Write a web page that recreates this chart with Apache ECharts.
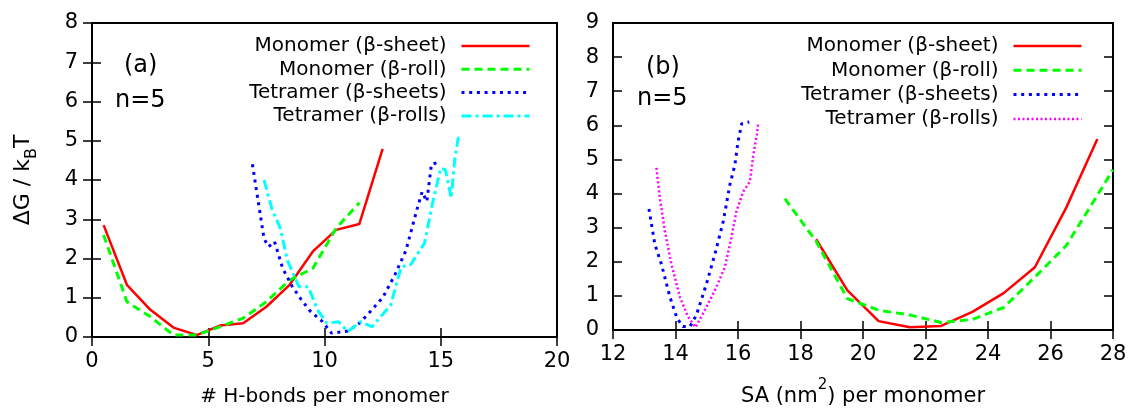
<!DOCTYPE html>
<html>
<head>
<meta charset="utf-8">
<script src="https://cdn.jsdelivr.net/npm/echarts@6/dist/echarts.min.js"></script>
<style>
html, body { margin: 0; padding: 0; background: #fff; }
#chart { width: 1130px; height: 412px; }
</style>
</head>
<body>
<div id="chart"></div>
<script>
// panel (a): # H-bonds per monomer
const hbMonoSheetX = [0.5, 1.5, 2.5, 3.5, 4.5, 5.5, 6.5, 7.5, 8.5, 9.5, 10.5, 11.5, 12.5]
const hbMonoSheetY = [2.85, 1.33, 0.7, 0.24, 0.05, 0.29, 0.35, 0.77, 1.33, 2.18, 2.73, 2.88, 4.79]
const hbMonoRollX = [0.5, 1.5, 2.5, 3.5, 4.5, 5.5, 6.5, 7.5, 8.5, 9.5, 10.5, 11.5]
const hbMonoRollY = [2.6, 0.9, 0.52, 0.05, 0.05, 0.26, 0.48, 0.9, 1.45, 1.75, 2.77, 3.42]
const hbTetSheetX = [6.9, 7.4, 7.6, 7.85, 8.2, 8.6, 9.0, 9.4, 9.9, 10.3, 10.6, 11.0, 11.5, 11.9, 12.5, 13.0, 13.5, 14.0, 14.2, 14.4, 14.6, 14.9]
const hbTetSheetY = [4.4, 2.5, 2.3, 2.43, 1.75, 1.3, 0.95, 0.65, 0.4, 0.1, 0.12, 0.15, 0.35, 0.6, 1.0, 1.55, 2.2, 3.3, 3.7, 3.45, 4.4, 4.45]
const hbTetRollX = [7.4, 7.75, 8.1, 8.4, 8.9, 9.3, 9.7, 10.1, 10.6, 11.0, 11.55, 12.05, 12.85, 13.3, 13.7, 14.3, 14.65, 15.0, 15.2, 15.45, 15.6, 15.75, 15.9]
const hbTetRollY = [4.0, 3.24, 2.77, 1.96, 1.28, 1.28, 0.69, 0.35, 0.39, 0.14, 0.39, 0.26, 0.82, 1.79, 1.84, 2.39, 3.41, 4.3, 4.26, 3.54, 4.52, 5.07, 5.11]

// panel (b): SA (nm^2) per monomer
const saMonoSheetX = [18.5, 19.5, 20.5, 21.5, 22.5, 23.5, 24.5, 25.5, 26.5, 27.5]
const saMonoSheetY = [2.66, 1.16, 0.26, 0.08, 0.12, 0.53, 1.08, 1.84, 3.58, 5.6]
const saMonoRollX = [17.5, 18.5, 19.5, 20.5, 21.5, 22.5, 23.5, 24.5, 25.5, 26.5, 27.5, 28]
const saMonoRollY = [3.85, 2.6, 0.92, 0.58, 0.44, 0.22, 0.31, 0.66, 1.55, 2.47, 3.95, 4.7]
const saTetSheetX = [13.15, 13.34, 13.55, 13.82, 14.05, 14.24, 14.46, 14.67, 14.99, 15.26, 15.53, 15.74, 15.9, 16.0, 16.12, 16.36]
const saTetSheetY = [3.55, 2.51, 1.93, 0.97, 0.34, 0.1, 0.1, 0.44, 1.35, 2.22, 3.19, 4.26, 4.84, 5.52, 6.05, 6.1]
const saTetRollX = [13.39, 13.5, 13.66, 13.87, 14.14, 14.4, 14.64, 14.88, 15.26, 15.58, 15.79, 15.95, 16.17, 16.38, 16.49, 16.6, 16.65]
const saTetRollY = [4.75, 3.87, 2.9, 1.93, 0.97, 0.39, 0.08, 0.48, 1.16, 1.84, 2.71, 3.48, 4.06, 4.35, 5.13, 5.71, 6.08]

const seriesNames = ['Monomer (β-sheet)', 'Monomer (β-roll)', 'Tetramer (β-sheets)', 'Tetramer (β-rolls)']
const hbTicks = { min: 0, max: 20, interval: 5 }
const saTicks = { min: 12, max: 28, interval: 2 }

const FONT = 'DejaVu Sans'

function zip(xs, ys) {
    return xs.map((x, i) => [x, ys[i]])
}

function line(name, xs, ys, axis, color, width, dash) {
    return {
        name: name,
        type: 'line',
        xAxisIndex: axis * 2,
        yAxisIndex: axis * 2,
        data: zip(xs, ys),
        symbol: 'none',
        smooth: false,
        animation: false,
        lineStyle: { color: color, width: width, type: dash || 'solid', cap: 'butt' },
        itemStyle: { color: color }
    }
}

function xAx(grid, range, top, name, nameGap) {
    return {
        type: 'value',
        gridIndex: grid,
        position: top ? 'top' : 'bottom',
        min: range.min,
        max: range.max,
        interval: range.interval,
        name: top ? '' : name,
        nameLocation: 'middle',
        nameGap: nameGap,
        nameMoveOverlap: false,
        nameTextStyle: {
            color: '#000', fontFamily: FONT, fontSize: 20,
            rich: {
                t: { fontFamily: FONT, fontSize: 21, color: '#000', lineHeight: 29, verticalAlign: 'bottom' },
                sup: { fontFamily: FONT, fontSize: 15, color: '#000', lineHeight: 15, verticalAlign: 'top' }
            }
        },
        axisLine: { show: false },
        axisTick: { show: true, inside: true, length: 9, lineStyle: { color: '#000', width: 1.5 } },
        axisLabel: { show: !top, color: '#000', fontFamily: FONT, fontSize: 21, margin: 14, showMinLabel: true, showMaxLabel: true },
        splitLine: { show: false }
    }
}

function yAx(grid, max, right, name) {
    return {
        type: 'value',
        gridIndex: grid,
        position: right ? 'right' : 'left',
        min: 0,
        max: max,
        interval: 1,
        name: name || '',
        nameLocation: 'middle',
        nameGap: 52,
        nameRotate: 90,
        nameMoveOverlap: false,
        nameTextStyle: {
            color: '#000', fontFamily: FONT, fontSize: 22,
            rich: {
                t: { fontFamily: FONT, fontSize: 22, color: '#000', lineHeight: 28, verticalAlign: 'top' },
                sub: { fontFamily: FONT, fontSize: 16, color: '#000', lineHeight: 16, verticalAlign: 'bottom' }
            }
        },
        axisLine: { show: false },
        axisTick: { show: true, inside: true, length: 9, lineStyle: { color: '#000', width: 1.5 } },
        axisLabel: { show: !right, color: '#000', fontFamily: FONT, fontSize: 21, margin: 14, showMinLabel: true, showMaxLabel: true },
        splitLine: { show: false }
    }
}

function legend(names, right, rowH, suffix) {
    return {
        orient: 'vertical',
        align: 'right',
        right: right,
        top: 46 - rowH / 2,
        padding: 0,
        itemGap: 0,
        itemWidth: 68,
        itemHeight: 14,
        selectedMode: false,
        data: names.map(n => n + suffix),
        formatter: n => n.replace(suffix, ''),
        itemStyle: { opacity: 0, color: 'transparent', borderWidth: 0 },
        lineStyle: { width: 'inherit', type: 'inherit' },
        textStyle: { color: '#000', fontFamily: FONT, fontSize: 20, lineHeight: rowH, padding: [0, 10, 0, 0] }
    }
}

const B = ' [b]'
let option = {
    backgroundColor: '#fff',
    animation: false,
    grid: [
        { left: 92, top: 23, width: 465, height: 314, show: true, borderColor: '#000', borderWidth: 2, backgroundColor: 'transparent' },
        { left: 613, top: 23, width: 500, height: 310, show: true, borderColor: '#000', borderWidth: 2, backgroundColor: 'transparent' }
    ],
    xAxis: [
        xAx(0, hbTicks, false, '# H-bonds per monomer', 50),
        xAx(0, hbTicks, true),
        xAx(1, saTicks, false, '{t|SA (nm}{sup|2}{t|) per monomer}', 48),
        xAx(1, saTicks, true)
    ],
    yAxis: [
        yAx(0, 8, false, '{t|ΔG / k}{sub|B}{t|T}'),
        yAx(0, 8, true),
        yAx(1, 9, false),
        yAx(1, 9, true)
    ],
    legend: [
        legend(seriesNames, 599, 23.3, ''),
        legend(seriesNames, 47, 24.3, B)
    ],
    graphic: [
        { type: 'text', left: 124, top: 54, style: { text: '(a)', font: '24px "DejaVu Sans"', fill: '#000' } },
        { type: 'text', left: 115, top: 89, style: { text: 'n=5', font: '24px "DejaVu Sans"', fill: '#000' } },
        { type: 'text', left: 646, top: 56, style: { text: '(b)', font: '24px "DejaVu Sans"', fill: '#000' } },
        { type: 'text', left: 637, top: 87, style: { text: 'n=5', font: '24px "DejaVu Sans"', fill: '#000' } }
    ],
    series: [
        line(seriesNames[0], hbMonoSheetX, hbMonoSheetY, 0, '#ff0000', 2.5),
        line(seriesNames[1], hbMonoRollX, hbMonoRollY, 0, '#00ff00', 3, [8, 5]),
        line(seriesNames[2], hbTetSheetX, hbTetSheetY, 0, '#0000ff', 3, [3, 4.7]),
        line(seriesNames[3], hbTetRollX, hbTetRollY, 0, '#00ffff', 3, [10, 4, 3, 4]),
        line(seriesNames[0] + B, saMonoSheetX, saMonoSheetY, 1, '#ff0000', 2.5),
        line(seriesNames[1] + B, saMonoRollX, saMonoRollY, 1, '#00ff00', 3, [8, 5]),
        line(seriesNames[2] + B, saTetSheetX, saTetSheetY, 1, '#0000ff', 3, [3, 4.7]),
        line(seriesNames[3] + B, saTetRollX, saTetRollY, 1, '#ff00ff', 2.5, [2, 2.5])
    ]
}

let chart = echarts.init(document.getElementById('chart'))
chart.setOption(option, true)
</script>
</body>
</html>
